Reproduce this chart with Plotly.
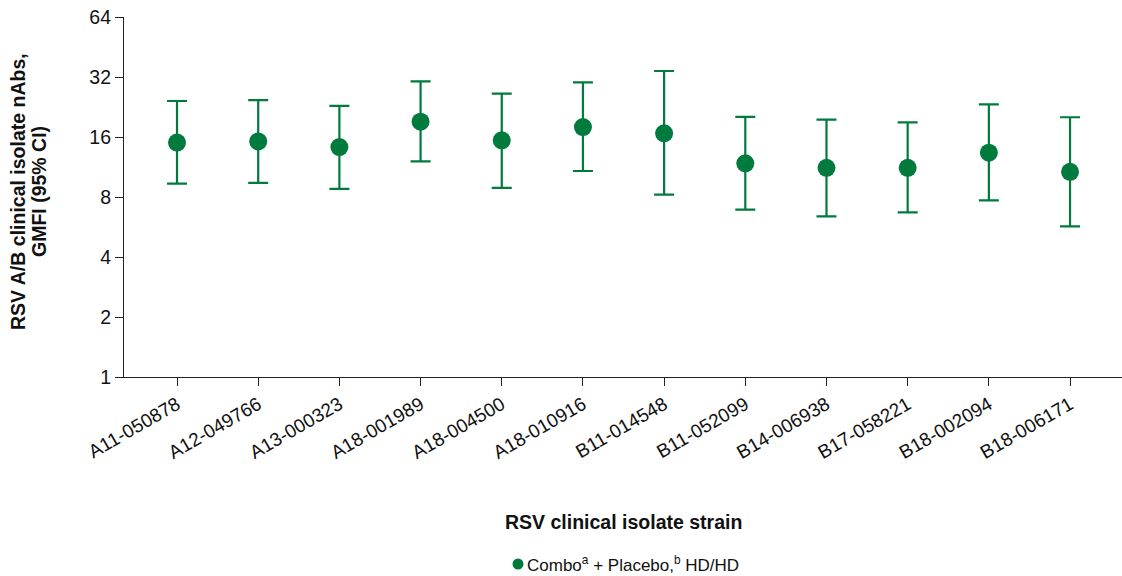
import plotly.graph_objects as go

strains = ["A11-050878", "A12-049766", "A13-000323", "A18-001989", "A18-004500",
           "A18-010916", "B11-014548", "B11-052099", "B14-006938", "B17-058221",
           "B18-002094", "B18-006171"]
gmfi = [15.0, 15.2, 14.25, 19.1, 15.4, 17.95, 16.7, 11.8, 11.2, 11.2, 13.35, 10.7]
ci_lower = [9.33, 9.41, 8.78, 12.08, 8.88, 10.8, 8.22, 6.91, 6.4, 6.7, 7.7, 5.7]
ci_upper = [24.25, 24.5, 22.9, 30.4, 26.4, 30.1, 34.3, 20.2, 19.55, 18.96, 23.3, 20.1]
y_ticks = [1, 2, 4, 8, 16, 32, 64]
series_name = "Combo<sup>a</sup> + Placebo,<sup>b</sup> HD/HD"

GREEN = "#007A3D"
FONT = "Liberation Sans, Arial, sans-serif"
TXT = "#111111"

# plot area geometry (px)
L, R, T, B = 124, 0, 17, 199
W, H = 1122, 576
PW, PH = W - L - R, H - T - B


def px_x(x):
    return (x - L) / PW


def px_y(y):
    return (H - B - y) / PH


x_idx = list(range(len(strains)))
fig = go.Figure()
fig.add_trace(go.Scatter(
    x=x_idx, y=gmfi, mode="markers", name=series_name, showlegend=False,
    marker=dict(color=GREEN, size=18),
    error_y=dict(type="data", symmetric=False,
                 array=[u - g for u, g in zip(ci_upper, gmfi)],
                 arrayminus=[g - l for g, l in zip(gmfi, ci_lower)],
                 color=GREEN, thickness=2.2, width=10),
))

fig.update_layout(
    width=W, height=H,
    margin=dict(l=L, r=R, t=T, b=B),
    paper_bgcolor="white", plot_bgcolor="white",
    font=dict(family=FONT, color=TXT),
    showlegend=False,
    xaxis=dict(
        tickmode="array", tickvals=x_idx, ticktext=strains, tickangle=-30,
        range=[-0.653, 11.64], showline=True, linecolor="#222222", linewidth=1.2,
        ticks="outside", ticklen=8, tickcolor="#222222", showgrid=False, zeroline=False,
        tickfont=dict(size=19, family=FONT, color=TXT), automargin=False,
    ),
    yaxis=dict(
        type="log", range=[0, 1.80618], tickmode="array", tickvals=y_ticks,
        ticktext=[str(v) for v in y_ticks], showline=True, linecolor="#222222", linewidth=1.2,
        ticks="outside", ticklen=8, tickcolor="#222222", showgrid=False, zeroline=False,
        tickfont=dict(size=19.5, family=FONT, color=TXT), automargin=False,
    ),
    shapes=[
        dict(type="circle", xref="paper", yref="paper", xsizemode="pixel", ysizemode="pixel",
             xanchor=px_x(518), yanchor=px_y(564), x0=-5.5, x1=5.5, y0=-5.5, y1=5.5,
             fillcolor=GREEN, line=dict(width=0)),
    ],
    annotations=[
        dict(text="<b>RSV clinical isolate strain</b>", xref="paper", yref="paper",
             x=0.5, y=px_y(522), xanchor="center", yanchor="middle",
             showarrow=False, font=dict(size=19.5, family=FONT, color=TXT)),
        dict(text="<b>RSV A/B clinical isolate nAbs,</b>", xref="paper", yref="paper",
             x=px_x(18), y=px_y(192), xanchor="center", yanchor="middle", textangle=-90,
             showarrow=False, font=dict(size=19.5, family=FONT, color=TXT)),
        dict(text="<b>GMFI (95% CI)</b>", xref="paper", yref="paper",
             x=px_x(39), y=px_y(192), xanchor="center", yanchor="middle", textangle=-90,
             showarrow=False, font=dict(size=19.5, family=FONT, color=TXT)),
        dict(text=series_name, xref="paper", yref="paper",
             x=px_x(525), y=px_y(564), xanchor="left", yanchor="middle",
             showarrow=False, font=dict(size=17, family=FONT, color=TXT)),
    ],
)

fig.write_html("out.html")
